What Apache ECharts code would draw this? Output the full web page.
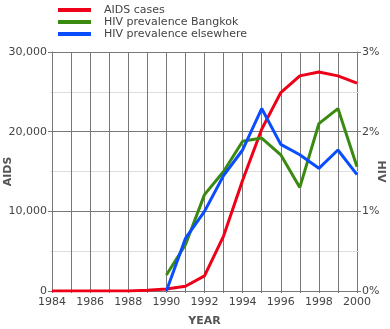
<!DOCTYPE html>
<html><head><meta charset="utf-8">
<script src="https://cdn.jsdelivr.net/npm/echarts@6/dist/echarts.min.js"></script>
<style>html,body{margin:0;padding:0;background:#fff}#c{width:390px;height:329px}</style>
</head><body><div id="c"></div>
<script>
var years = ['1984','1985','1986','1987','1988','1989','1990','1991','1992','1993','1994','1995','1996','1997','1998','1999','2000'];
var aidsCases = [0,0,0,0,10,80,250,600,1900,6900,13900,20300,24900,27000,27500,27000,26100];
var hivBangkok = [null,null,null,null,null,null,0.2,0.58,1.21,1.5,1.88,1.92,1.71,1.3,2.1,2.29,1.56];
var hivElsewhere = [null,null,null,null,null,null,0,0.66,1.0,1.45,1.77,2.29,1.84,1.71,1.54,1.77,1.46];
var legendNames = ['AIDS cases','HIV prevalence Bangkok','HIV prevalence elsewhere'];

var font = 'DejaVu Sans';
var txt = '#444';
var chart = echarts.init(document.getElementById('c'));
chart.setOption({
  animation:false,
  textStyle:{fontFamily:font},
  legend:{
    orient:'vertical', left:58, top:4, itemWidth:33, itemHeight:4, itemGap:0,
    icon:'rect', padding:0,
    textStyle:{fontFamily:font,fontSize:11,color:txt,lineHeight:12,padding:[0,0,0,8]},
    data:legendNames
  },
  grid:{left:52,right:33,top:52,bottom:38,containLabel:false,outerBoundsMode:'none'},
  xAxis:{
    type:'category', data:years, boundaryGap:false,
    name:'YEAR', nameLocation:'middle', nameGap:25, nameMoveOverlap:false,
    nameTextStyle:{fontFamily:font,fontSize:11,fontWeight:'bold',color:'#555'},
    axisLine:{lineStyle:{color:'#777',width:1}},
    axisTick:{show:true,interval:0,length:2,lineStyle:{color:'#777'}},
    axisLabel:{interval:1,fontFamily:font,fontSize:11,color:txt,margin:6},
    splitLine:{show:true,interval:0,lineStyle:{color:'#777',width:1}}
  },
  yAxis:[{
    type:'value', min:0, max:30000, interval:10000,
    name:'AIDS', nameLocation:'middle', nameGap:38, nameMoveOverlap:false,
    nameTextStyle:{fontFamily:font,fontSize:11,fontWeight:'bold',color:'#555'},
    axisLine:{show:true,lineStyle:{color:'#777'}},
    axisTick:{show:true,length:4,lineStyle:{color:'#777'}},
    minorTick:{show:true,splitNumber:2,length:2,lineStyle:{color:'#ddd'}},
    minorSplitLine:{show:true,lineStyle:{color:'#ddd',width:1}},
    axisLabel:{fontFamily:font,fontSize:11,color:txt,margin:5,
      formatter:function(v){return v.toLocaleString('en-US');}},
    splitLine:{show:true,lineStyle:{color:'#777',width:1}}
  },{
    type:'value', min:0, max:3, interval:1, position:'right',
    name:'HIV', nameLocation:'middle', nameGap:18, nameRotate:-90, nameMoveOverlap:false,
    nameTextStyle:{fontFamily:font,fontSize:11,fontWeight:'bold',color:'#555'},
    axisLine:{show:true,lineStyle:{color:'#777'}},
    axisTick:{show:true,length:4,lineStyle:{color:'#777'}},
    minorTick:{show:true,splitNumber:2,length:2,lineStyle:{color:'#ddd'}},
    axisLabel:{fontFamily:font,fontSize:11,color:txt,margin:5,formatter:'{value}%'},
    splitLine:{show:false}
  }],
  series:[
    {name:legendNames[0],type:'line',data:aidsCases,yAxisIndex:0,showSymbol:false,
     color:'#ee0018',lineStyle:{width:3,color:'#ee0018'},z:3},
    {name:legendNames[1],type:'line',data:hivBangkok,yAxisIndex:1,showSymbol:false,
     color:'#3a8a12',lineStyle:{width:3,color:'#3a8a12'},z:4},
    {name:legendNames[2],type:'line',data:hivElsewhere,yAxisIndex:1,showSymbol:false,
     color:'#0a4dff',lineStyle:{width:3,color:'#0a4dff'},z:5}
  ]
});
</script></body></html>
